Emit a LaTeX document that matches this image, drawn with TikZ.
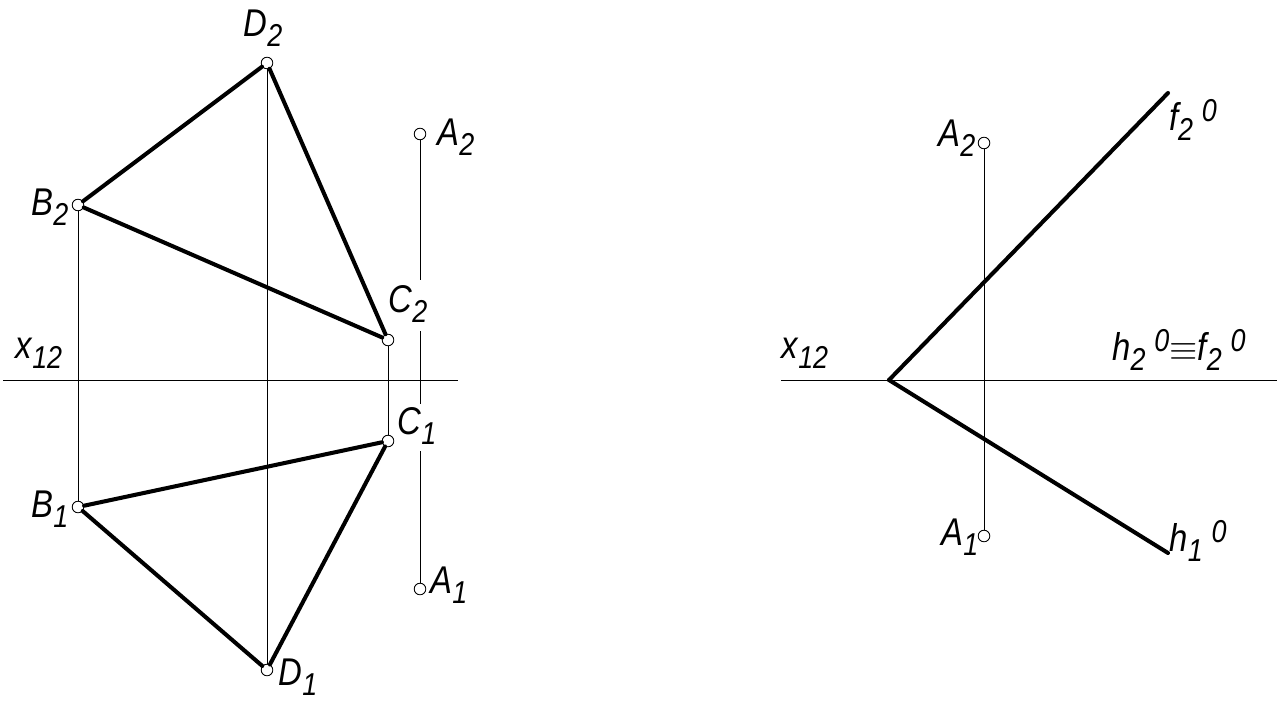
\documentclass[tikz,border=0pt]{standalone}
\usepackage{fontspec}
\setmainfont{Liberation Sans}[FakeStretch=0.85]
\usepackage{tikz}

\newcommand{\lbl}[2]{\textit{#1\raisebox{-5.5pt}{\fontsize{18}{18}\selectfont #2}}}
\newcommand{\zero}{\raisebox{5pt}{\kern5pt\textit{\fontsize{18}{18}\selectfont 0}}}

\begin{document}
\begin{tikzpicture}[
x=0.02cm, y=-0.02cm,
pt/.style = {circle, draw, fill=white, line width=0.5pt, inner sep=0pt, minimum size=6.6pt},
thin line/.style = {line width=0.5pt},
thick line/.style = {line width=2.3pt, line cap=round},
plane label/.style = {inner sep=0pt, font=\fontsize{22}{22}\selectfont}
]

\useasboundingbox (0,0) rectangle (1279,706);

% left drawing
\node (a2) at (420,134) [pt] {};
\node (a1) at (420,589) [pt] {};
\node (b2) at (78,205) [pt] {};
\node (b1) at (78,507) [pt] {};
\node (c2) at (388,340) [pt] {};
\node (c1) at (388,441) [pt] {};
\node (d2) at (267,63) [pt] {};
\node (d1) at (267,670) [pt] {};

\coordinate (axl0) at (3,380);
\coordinate (axl1) at (458,380);
\coordinate (aup) at (420,280);
\coordinate (amid0) at (420,331);
\coordinate (amid1) at (420,404);
\coordinate (alow) at (420,451);

\draw[thin line] (axl0) -- (axl1);
\draw[thin line] (b2) -- (b1);
\draw[thin line] (d2) -- (d1);
\draw[thin line] (c2) -- (c1);
\draw[thin line] (a2) -- (aup);
\draw[thin line] (amid0) -- (amid1);
\draw[thin line] (alow) -- (a1);

\draw[thick line] (b2) -- (d2);
\draw[thick line] (d2) -- (c2);
\draw[thick line] (c2) -- (b2);
\draw[thick line] (b1) -- (d1);
\draw[thick line] (d1) -- (c1);
\draw[thick line] (c1) -- (b1);

\node (ld2) at (263,28) [plane label] {\lbl{D}{2}};
\node (lb2) at (50,207) [plane label] {\lbl{B}{2}};
\node (lc2) at (408,304) [plane label] {\lbl{C}{2}};
\node (lc1) at (417,426) [plane label] {\lbl{C}{1}};
\node (la2) at (456,137) [plane label] {\lbl{A}{2}};
\node (la1) at (449,585) [plane label] {\lbl{A}{1}};
\node (lb1) at (50,509) [plane label] {\lbl{B}{1}};
\node (ld1) at (298,677) [plane label] {\lbl{D}{1}};
\node (lxl) at (39,353) [plane label] {\lbl{x}{12}};

% right drawing
\node (r2) at (984,143) [pt] {};
\node (r1) at (984,536) [pt] {};

\coordinate (axr0) at (781,380);
\coordinate (axr1) at (1277,380);
\coordinate (vtx) at (889,380);
\coordinate (fend) at (1168,93);
\coordinate (hend) at (1168,553);

\draw[thin line] (axr0) -- (axr1);
\draw[thin line] (r2) -- (r1);
\draw[thick line] (vtx) -- (fend);
\draw[thick line] (vtx) -- (hend);

\node (lr2) at (957,138) [plane label] {\lbl{A}{2}};
\node (lr1) at (960,537) [plane label] {\lbl{A}{1}};
\node (lxr) at (805,353) [plane label] {\lbl{x}{12}};
\node (lf) at (1193,120) [plane label] {\lbl{f}{2}\zero};
\node (lh) at (1198,541) [plane label] {\lbl{h}{1}\zero};
\node (lhf) at (1179,350) [plane label] {\lbl{h}{2}\zero$\equiv$\lbl{f}{2}\zero};
\end{tikzpicture}
\end{document}
